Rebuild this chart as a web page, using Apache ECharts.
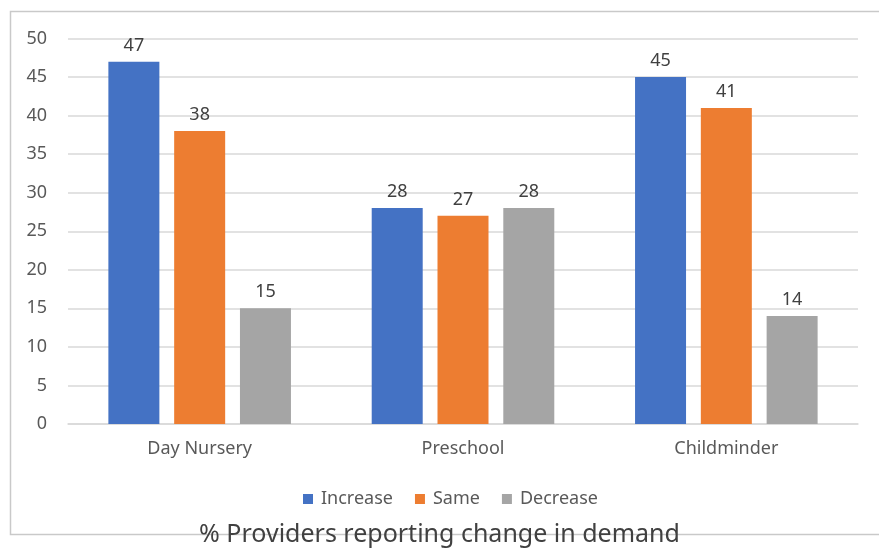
<!DOCTYPE html>
<html><head><meta charset="utf-8">
<script src="https://cdn.jsdelivr.net/npm/echarts@6/dist/echarts.min.js"></script>
<style>html,body{margin:0;padding:0;background:#fff}#c{width:879px;height:549px}</style>
</head><body><div id="c"></div>
<script>
const categories = ['Day Nursery', 'Preschool', 'Childminder'];
const increase = [47, 28, 45];
const same = [38, 27, 41];
const decrease = [15, 28, 14];
const yTicks = [0, 5, 10, 15, 20, 25, 30, 35, 40, 45, 50];
const titleText = '% Providers reporting change in demand';

const font = 'Noto Sans';
const chart = echarts.init(document.getElementById('c'), null, {renderer: 'canvas'});
function mk(name, data, color) {
  return {
    name, type: 'bar', data, barWidth: 51, barGap: '29%',
    itemStyle: {color},
    label: {show: true, position: 'top', distance: 7, color: '#404040', fontFamily: font, fontSize: 18},
    emphasis: {disabled: true}
  };
}
chart.setOption({
  animation: false,
  graphic: [{type: 'rect', shape: {x: 10.5, y: 11.5, width: 900, height: 523}, style: {fill: 'none', stroke: '#c9c9c9', lineWidth: 1.5}, z: -10}],
  title: {text: titleText, left: 'center', top: 517, textStyle: {fontFamily: font, fontSize: 25, fontWeight: 'normal', color: '#404040'}},
  legend: {top: 485, left: 298, itemWidth: 10, itemHeight: 10, itemGap: 22, icon: 'rect',
    textStyle: {fontFamily: font, fontSize: 18, color: '#595959', padding: [0, 0, 0, 3]}},
  grid: {left: 68, right: 21, top: 38.5, bottom: 125, containLabel: false},
  xAxis: {type: 'category', data: categories,
    axisLine: {lineStyle: {color: '#d9d9d9', width: 1.5}}, axisTick: {show: false},
    axisLabel: {fontFamily: font, fontSize: 18, color: '#595959', margin: 16}},
  yAxis: {type: 'value', min: yTicks[0], max: yTicks[yTicks.length - 1], interval: 5,
    axisLine: {show: false}, axisTick: {show: false},
    splitLine: {lineStyle: {color: '#d9d9d9', width: 1.5}},
    axisLabel: {fontFamily: font, fontSize: 18, color: '#595959', margin: 21}},
  series: [mk('Increase', increase, '#4472C4'), mk('Same', same, '#ED7D31'), mk('Decrease', decrease, '#A5A5A5')]
});
</script></body></html>
